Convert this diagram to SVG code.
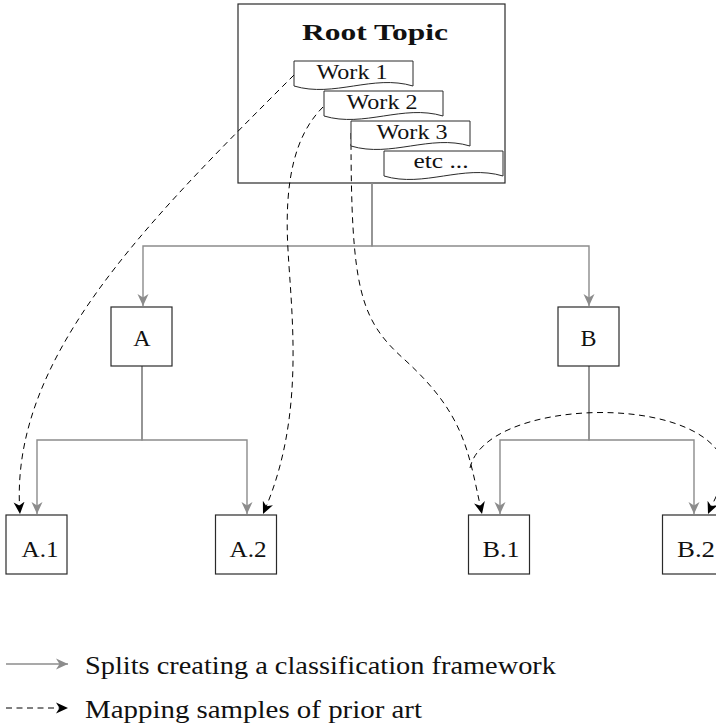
<svg xmlns="http://www.w3.org/2000/svg" width="716" height="725" viewBox="0 0 716 725">
  <style>
    .box { fill: #ffffff; stroke: #2a2a2a; stroke-width: 1.2; }
    .note { fill: #ffffff; stroke: #2a2a2a; stroke-width: 1; }
    .split { fill: none; stroke: #8c8c8c; stroke-width: 1.4; }
    .map { fill: none; stroke: #000000; stroke-width: 1; stroke-dasharray: 6 4.5; }
    .lbl { font-family: "Liberation Serif", "Times New Roman", serif; font-size: 24px; fill: #111111; text-anchor: middle; }
    .work { font-family: "Liberation Serif", "Times New Roman", serif; font-size: 20px; fill: #111111; text-anchor: middle; }
    .title { font-family: "Liberation Serif", "Times New Roman", serif; font-size: 24px; font-weight: bold; fill: #111111; text-anchor: middle; }
    .legend { font-family: "Liberation Serif", "Times New Roman", serif; font-size: 26px; fill: #111111; }
  </style>
  <defs>
    <marker id="headGray" markerUnits="userSpaceOnUse" markerWidth="12" markerHeight="12" viewBox="0 0 12 12" refX="12" refY="6" orient="auto">
      <path d="M0,0.5 L12,6 L0,11.5 L3.5,6 Z" fill="#8c8c8c"/>
    </marker>
    <marker id="headBlack" markerUnits="userSpaceOnUse" markerWidth="12" markerHeight="12" viewBox="0 0 12 12" refX="12" refY="6" orient="auto">
      <path d="M0,0.5 L12,6 L0,11.5 L3.5,6 Z" fill="#000000"/>
    </marker>
  </defs>

  <rect x="0" y="0" width="716" height="725" fill="#ffffff"/>

  <!-- root topic with the stacked work notes -->
  <g id="root">
    <rect class="box" x="238" y="4" width="267" height="179"/>
    <text class="title" x="375" y="40" textLength="146" lengthAdjust="spacingAndGlyphs">Root Topic</text>
  </g>

  <!-- tree splits -->
  <g id="connectors">
    <path class="split" d="M372,183 V246 H143 V306" marker-end="url(#headGray)"/>
    <path class="split" d="M372,183 V246 H589 V306" marker-end="url(#headGray)"/>
    <path class="split" d="M142,366 V440 H37 V514" marker-end="url(#headGray)"/>
    <path class="split" d="M142,366 V440 H247 V514" marker-end="url(#headGray)"/>
    <path class="split" d="M589,366 V440 H500 V514" marker-end="url(#headGray)"/>
    <path class="split" d="M589,366 V440 H694 V514" marker-end="url(#headGray)"/>

    <!-- prior-art mappings -->
    <path class="map" d="M294,75 C144,225 8,360 20,514" marker-end="url(#headBlack)"/>
    <path class="map" d="M323,107 C295,135 284,180 288,250 C292,320 305,420 263,514" marker-end="url(#headBlack)"/>
    <path class="map" d="M351,133 C351,290 360,320 405,360 C465,415 468,450 482,514" marker-end="url(#headBlack)"/>
    <path class="map" d="M470,468 C485,400 690,392 722,458 C730,475 716,495 708,514" marker-end="url(#headBlack)"/>
  </g>

  <g id="work1">
    <path class="note" d="M294,61 H413 V86 C373,74 334,98 294,86 Z"/>
    <text class="work" x="352" y="79" textLength="71" lengthAdjust="spacingAndGlyphs">Work 1</text>
  </g>
  <g id="work2">
    <path class="note" d="M324,91 H443 V116 C403,104 364,128 324,116 Z"/>
    <text class="work" x="382" y="109" textLength="71" lengthAdjust="spacingAndGlyphs">Work 2</text>
  </g>
  <g id="work3">
    <path class="note" d="M351,121 H470 V146 C430,134 391,158 351,146 Z"/>
    <text class="work" x="412" y="138.5" textLength="71" lengthAdjust="spacingAndGlyphs">Work 3</text>
  </g>
  <g id="etc">
    <path class="note" d="M384,151 H503 V176 C463,164 424,188 384,176 Z"/>
    <text class="work" x="441" y="168" textLength="55" lengthAdjust="spacingAndGlyphs">etc ...</text>
  </g>

  <g id="nodeA">
    <rect class="box" x="111" y="307" width="61" height="59"/>
    <text class="lbl" x="142" y="346">A</text>
  </g>
  <g id="nodeB">
    <rect class="box" x="558" y="307" width="61" height="59"/>
    <text class="lbl" x="588.5" y="346">B</text>
  </g>
  <g id="nodeA1">
    <rect class="box" x="6" y="515" width="61" height="59"/>
    <text class="lbl" x="40" y="557" textLength="37" lengthAdjust="spacingAndGlyphs">A.1</text>
  </g>
  <g id="nodeA2">
    <rect class="box" x="215.5" y="515" width="61" height="59"/>
    <text class="lbl" x="248" y="557" textLength="37" lengthAdjust="spacingAndGlyphs">A.2</text>
  </g>
  <g id="nodeB1">
    <rect class="box" x="468.5" y="515" width="61" height="59"/>
    <text class="lbl" x="501" y="557" textLength="37" lengthAdjust="spacingAndGlyphs">B.1</text>
  </g>
  <g id="nodeB2">
    <rect class="box" x="662.5" y="515" width="61" height="59"/>
    <text class="lbl" x="696" y="557" textLength="38" lengthAdjust="spacingAndGlyphs">B.2</text>
  </g>

  <!-- legend -->
  <g id="legend">
    <path class="split" d="M6,664 H68" marker-end="url(#headGray)"/>
    <text class="legend" x="85" y="674" textLength="471" lengthAdjust="spacingAndGlyphs">Splits creating a classification framework</text>
    <path class="map" d="M6,708 H68" marker-end="url(#headBlack)"/>
    <text class="legend" x="85" y="718" textLength="337" lengthAdjust="spacingAndGlyphs">Mapping samples of prior art</text>
  </g>
</svg>
